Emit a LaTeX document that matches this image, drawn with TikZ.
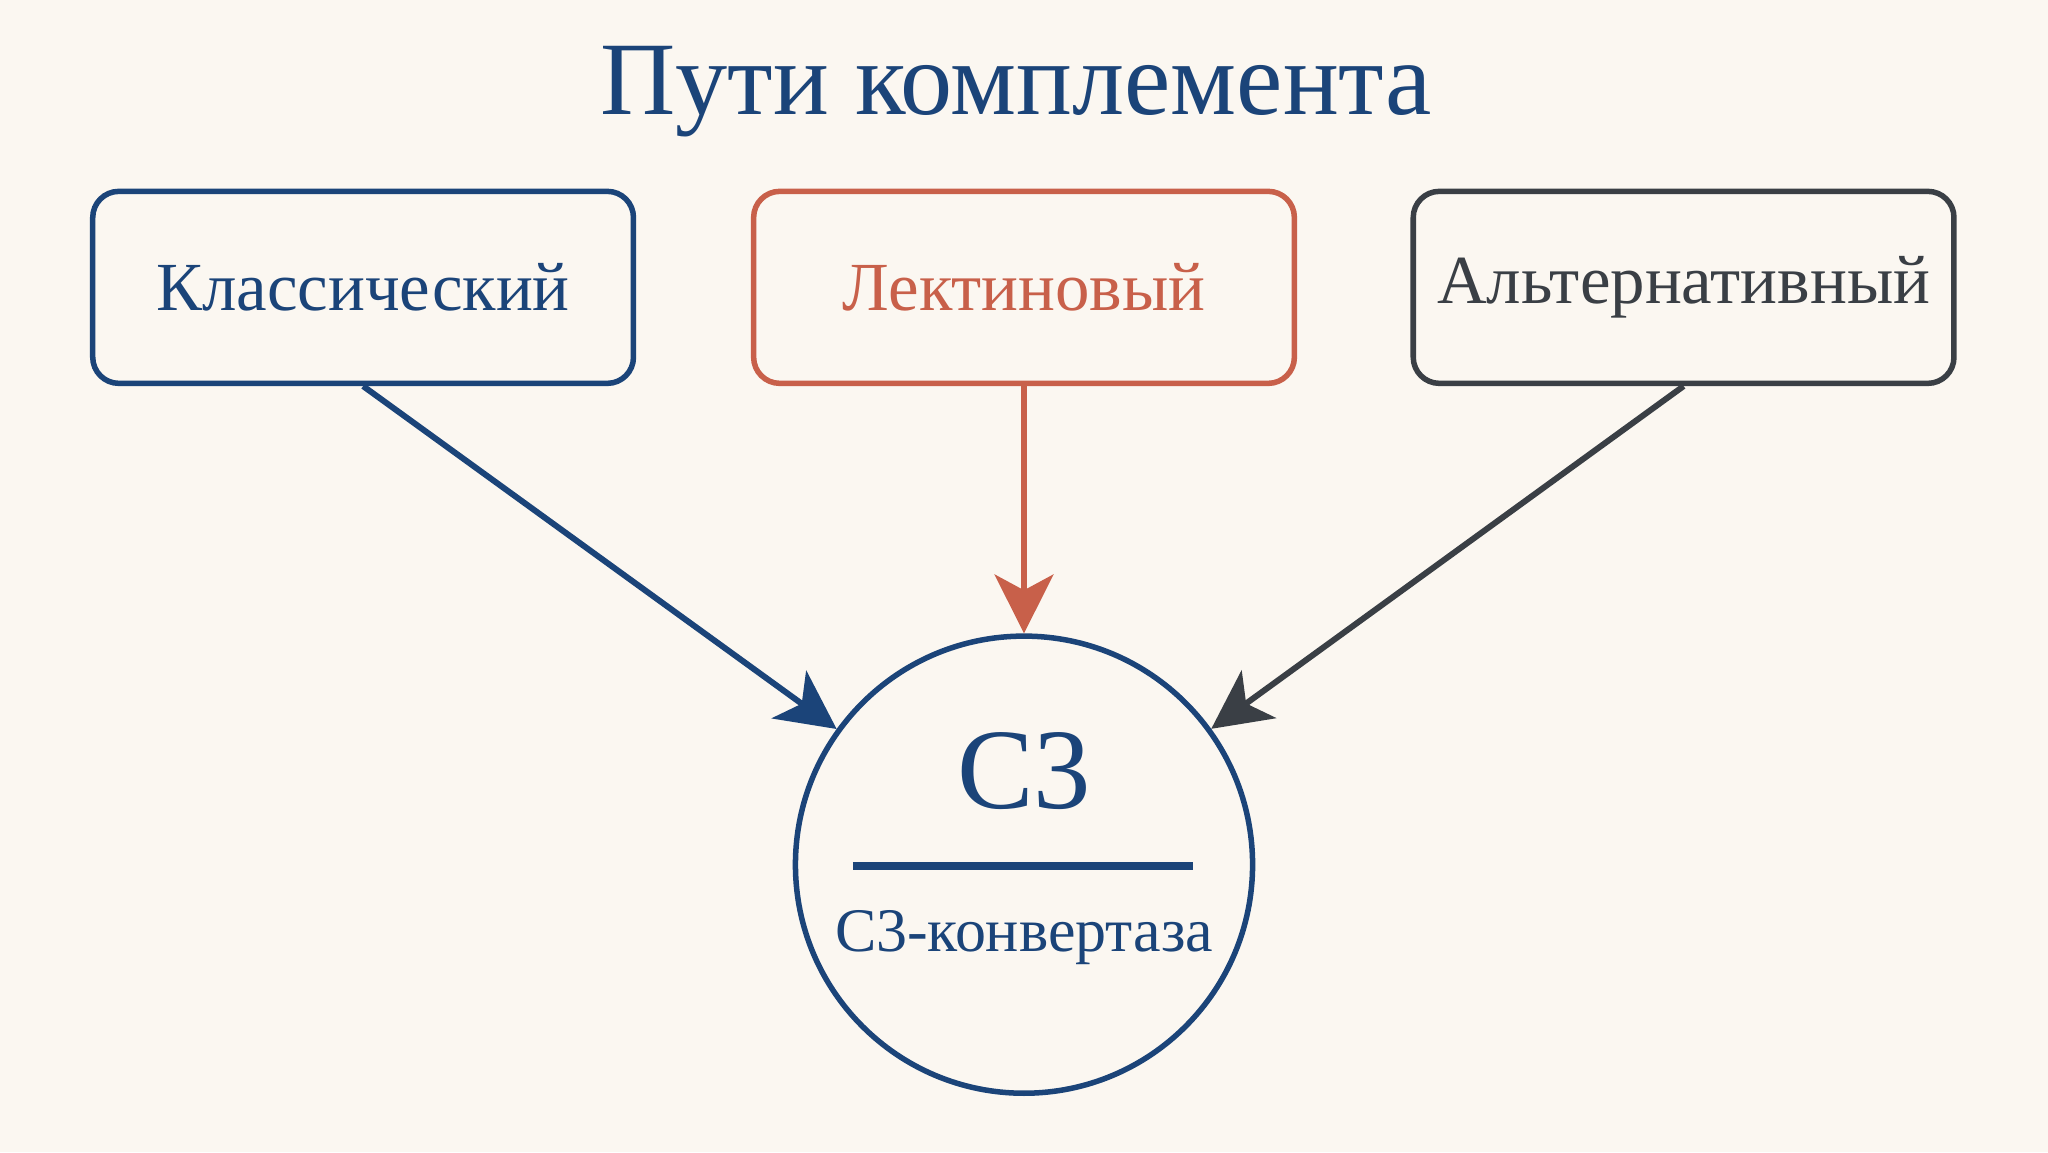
\documentclass[tikz,border=0pt]{standalone}
\usepackage{fontspec}
\setmainfont{Liberation Serif}
\usetikzlibrary{positioning,arrows.meta}
\definecolor{cblue}{HTML}{1B4479}
\definecolor{cred}{HTML}{C8604A}
\definecolor{cgray}{HTML}{3A3F45}
\definecolor{cbg}{HTML}{FBF7F1}
\tikzset{
  path box/.style={draw, line width=1.2pt, rounded corners=0.2cm, inner sep=2pt, minimum width=4.14cm, minimum height=1.47cm, font=\fontsize{15}{18}\selectfont},
  path arrow/.style={line width=1.3pt, -{Stealth[length=0.45cm, width=0.45cm, inset=0.12cm]}}
}
\begin{document}
\begin{tikzpicture}
    % background
    \fill[cbg] (0,0) rectangle (15.68,8.82);
    \useasboundingbox (0,0) rectangle (15.68,8.82);

    % title
    \node[text=cblue, font=\fontsize{22.7}{27}\selectfont] (title) at (7.78,8.12) {Пути комплемента};

    % pathways
    \node[path box, draw=cblue, text=cblue] (klass) at (2.78,6.62) {Классический};
    \node[path box, draw=cred, text=cred] (lekt) at (7.84,6.62) {Лектиновый};
    \node[path box, draw=cgray, text=cgray] (alt) at (12.89,6.62) {Альтернативный};

    % C3
    \node[draw=cblue, line width=1.2pt, circle, minimum size=3.5cm] (c3) at (7.84,2.2) {};
    \node[text=cblue, font=\fontsize{25}{30}\selectfont] (c3name) at (7.84,2.92) {C3};
    \draw[cblue, line width=1.6pt] (6.53,2.19) -- (9.13,2.19);
    \node[text=cblue, font=\fontsize{13.5}{16}\selectfont] (c3conv) at (7.84,1.64) {C3-конвертаза};

    % arrows
    \draw[path arrow, cblue] (klass.south) -- (c3);
    \draw[path arrow, cred] (lekt.south) -- (c3);
    \draw[path arrow, cgray] (alt.south) -- (c3);
\end{tikzpicture}
\end{document}
